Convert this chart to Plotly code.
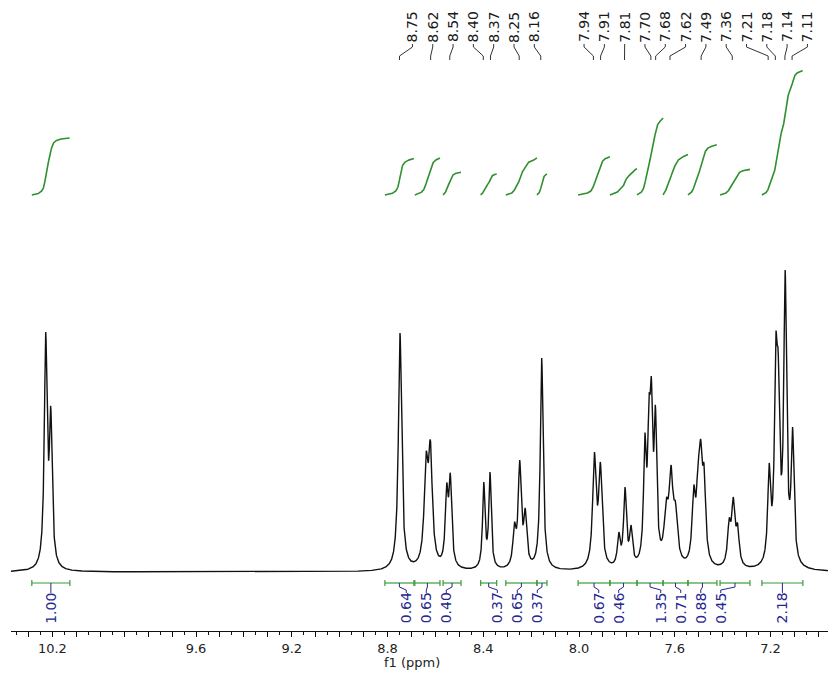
import numpy as np
import plotly.graph_objects as go

# ---- 1H NMR data -----------------------------------------------------------
# resolved lines: chemical shift (ppm), apparent height (a.u.), line width (ppm)
PEAK_PPM = [10.228, 10.207, 8.748, 8.639, 8.621, 8.553, 8.538, 8.398, 8.372,
            8.270, 8.248, 8.225, 8.156, 7.936, 7.911, 7.834, 7.808, 7.783,
            7.725, 7.708, 7.698, 7.681, 7.636, 7.616, 7.597, 7.521, 7.503,
            7.492, 7.478, 7.373, 7.356, 7.338, 7.206, 7.178, 7.168, 7.139, 7.108]
PEAK_HEIGHT = [240, 166, 239, 120, 132, 89, 99, 90, 100,
               50, 112, 64, 214, 120, 110, 40, 85, 47,
               139, 177, 195, 167, 74, 107, 70, 87, 113,
               133, 108, 54, 75, 49, 109, 238, 220, 302, 145]
PEAK_FWHM = [0.014, 0.014, 0.016, 0.019, 0.019, 0.014, 0.014, 0.012, 0.012,
             0.015, 0.015, 0.015, 0.014, 0.017, 0.017, 0.014, 0.014, 0.014,
             0.013, 0.013, 0.013, 0.013, 0.020, 0.020, 0.020, 0.016, 0.016,
             0.016, 0.016, 0.016, 0.016, 0.016, 0.014, 0.014, 0.014, 0.014, 0.014]

# picked peaks shown above the spectrum
PEAK_LABELS = ["8.75", "8.62", "8.54", "8.40", "8.37", "8.25", "8.16",
               "7.94", "7.91", "7.81", "7.70", "7.68", "7.62", "7.49",
               "7.36", "7.21", "7.18", "7.14", "7.11"]

# integration regions (ppm) and normalised integrals
INT_FROM = [10.286, 8.811, 8.686, 8.568, 8.411, 8.306, 8.176,
            8.004, 7.871, 7.758, 7.649, 7.545, 7.411, 7.236]
INT_TO = [10.127, 8.690, 8.581, 8.493, 8.344, 8.176, 8.134,
          7.871, 7.758, 7.649, 7.545, 7.424, 7.286, 7.065]
INT_VALUE = [1.00, 0.64, 0.65, 0.40, 0.37, 0.65, 0.37,
             0.67, 0.46, 1.35, 0.71, 0.88, 0.45, 2.18]

# axis
X_RANGE = [10.373, 6.960]
TICK_LABELS = [10.2, 9.6, 9.2, 8.8, 8.4, 8.0, 7.6, 7.2]

# ---- drawing constants (intensity units of the hidden y axis) --------------
Y_RANGE = [-59, 572]
INT_BASE = 377          # baseline of the integral curves
INT_SCALE = 57          # curve rise per 1.00 of integral
PX_PER_PPM = 239.3
FONT = "DejaVu Sans"
GREEN = "#2f8f2f"
NAVY = "#26268f"

x = np.linspace(X_RANGE[0], X_RANGE[1], 6827)
pk = np.array(PEAK_PPM)
tgt = np.array(PEAK_HEIGHT, dtype=float)
hw = np.array(PEAK_FWHM) / 2


def lorentz(d, half):
    return 1.0 / (1.0 + (d / half) ** 2)


# amplitudes so that the summed lines reach the listed heights
M = lorentz(pk[:, None] - pk[None, :], hw[None, :])
amp = tgt.copy()
for _ in range(400):
    amp *= tgt / (M @ amp)

spec = (amp[None, :] * lorentz(x[:, None] - pk[None, :], hw[None, :])).sum(axis=1)


def spread(pos, gap, join):
    """Lay labels of neighbouring peaks out evenly, `gap` apart,
    centred on the group they belong to."""
    order = np.argsort(pos)
    clusters = [[pos[i]] for i in order]
    merged = True
    while merged:
        merged = False
        for i in range(len(clusters) - 1):
            a, b = clusters[i], clusters[i + 1]
            top_a = np.mean(a) + (len(a) - 1) * gap / 2
            bot_b = np.mean(b) - (len(b) - 1) * gap / 2
            if bot_b - top_a < join:
                clusters[i] = a + b
                del clusters[i + 1]
                merged = True
                break
    placed = []
    for c in clusters:
        m, n = np.mean(c), len(c)
        placed += [m + (k - (n - 1) / 2) * gap for k in range(n)]
    out = np.empty(len(pos))
    out[order] = placed
    return out


fig = go.Figure()

# spectrum
fig.add_trace(go.Scatter(x=x, y=spec, mode="lines",
                         line=dict(color="#111111", width=1.4),
                         hoverinfo="skip"))

# integral curves
cx, cy = [], []
for a, b, v in zip(INT_FROM, INT_TO, INT_VALUE):
    m = (x <= a) & (x >= b)
    cum = np.cumsum(spec[m])
    cum = cum / cum[-1]
    cx += list(x[m]) + [None]
    cy += list(INT_BASE + cum * v * INT_SCALE) + [None]
fig.add_trace(go.Scatter(x=cx, y=cy, mode="lines",
                         line=dict(color=GREEN, width=1.6), hoverinfo="skip"))

# integration bars with end caps
bx, by = [], []
for a, b in zip(INT_FROM, INT_TO):
    bx += [a, b, None, a, a, None, b, b, None]
    by += [-11, -11, None, -8, -14, None, -8, -14, None]
fig.add_trace(go.Scatter(x=bx, y=by, mode="lines",
                         line=dict(color="#3a9a3a", width=1.2), hoverinfo="skip"))

# integral labels and leaders
mids = np.array([(a + b) / 2 for a, b in zip(INT_FROM, INT_TO)])
int_lab_x = spread(mids, 20.0 / PX_PER_PPM, 0.15)
lx, ly = [], []
for mpos, lpos, v in zip(mids, int_lab_x, INT_VALUE):
    lx += [mpos, mpos, lpos, lpos, None]
    ly += [-11, -15, -18, -21, None]
    fig.add_annotation(x=lpos, y=-36, text=f"{v:.2f}", textangle=-90,
                       showarrow=False, xanchor="center", yanchor="middle",
                       font=dict(family=FONT, size=14, color=NAVY))
fig.add_trace(go.Scatter(x=lx, y=ly, mode="lines",
                         line=dict(color=NAVY, width=1), hoverinfo="skip"))

# peak labels and leaders
pk_pos = np.array([float(s) for s in PEAK_LABELS])
pk_lab_x = spread(pk_pos, 20.3 / PX_PER_PPM, 0.15)
px_, py_ = [], []
for ppos, lpos, s in zip(pk_pos, pk_lab_x, PEAK_LABELS):
    px_ += [lpos, lpos, ppos, ppos, None]
    py_ += [528, 525, 516, 512, None]
    fig.add_annotation(x=lpos, y=545, text=s, textangle=-90,
                       showarrow=False, xanchor="center", yanchor="middle",
                       font=dict(family=FONT, size=14, color="#1a1a1a"))
fig.add_trace(go.Scatter(x=px_, y=py_, mode="lines",
                         line=dict(color="#333333", width=1), hoverinfo="skip"))

# axis title
fig.add_annotation(xref="paper", yref="paper", x=(412 - 11) / 817, y=-31 / 631,
                   text="f1 (ppm)", showarrow=False, xanchor="center",
                   yanchor="middle", font=dict(family=FONT, size=13, color="#222"))

tickvals = [round(t, 1) for t in np.arange(7.0, 10.35, 0.1)]
ticktext = [f"{t:.1f}" if any(abs(t - l) < 1e-6 for l in TICK_LABELS) else ""
            for t in tickvals]

fig.update_layout(
    width=828, height=677,
    margin=dict(l=11, r=0, t=0, b=46),
    paper_bgcolor="white", plot_bgcolor="white",
    showlegend=False,
    xaxis=dict(range=X_RANGE, showgrid=False, zeroline=False,
               showline=True, linecolor="#111", linewidth=1,
               ticks="outside", ticklen=5, tickcolor="#111",
               tickmode="array", tickvals=tickvals, ticktext=ticktext,
               tickfont=dict(family=FONT, size=13, color="#222"),
               minor=dict(ticks="outside", ticklen=3, tickcolor="#111",
                          dtick=0.05, tick0=0, showgrid=False)),
    yaxis=dict(range=Y_RANGE, visible=False, showgrid=False, zeroline=False),
)

fig.write_html("out.html")
